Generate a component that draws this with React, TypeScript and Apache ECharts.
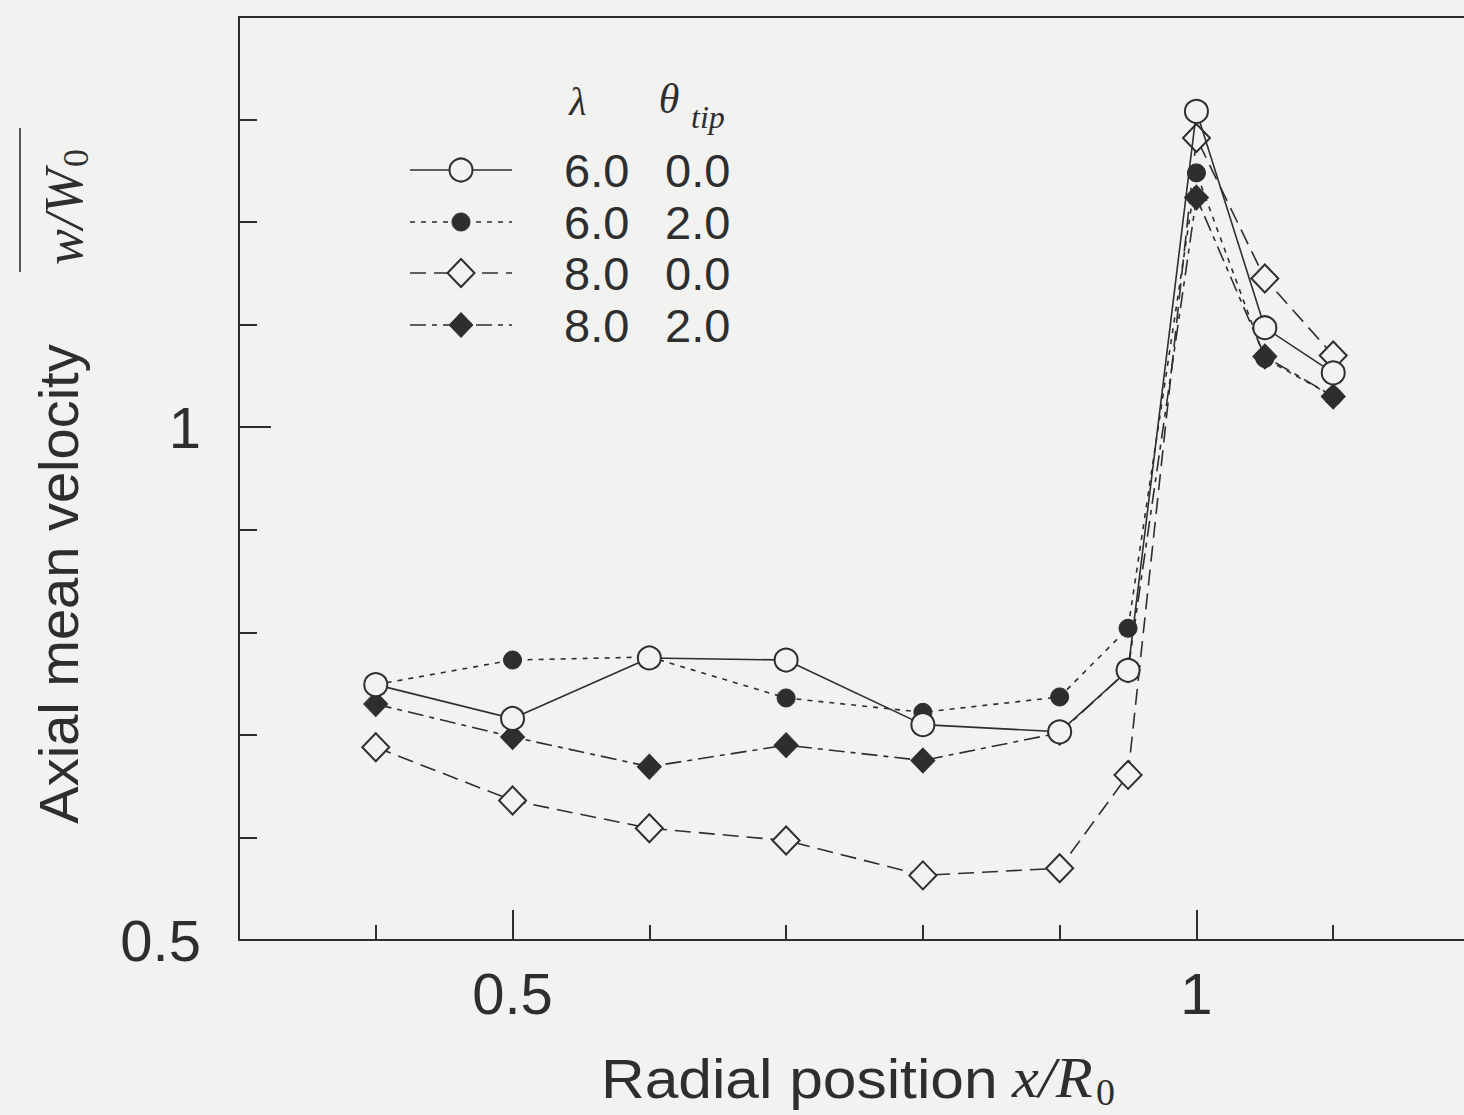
import React, { useEffect, useRef } from "react";
import * as echarts from "echarts";

// Radial positions x/R0
const radialPositions = [0.4, 0.5, 0.6, 0.7, 0.8, 0.9, 0.95, 1.0, 1.05, 1.1];

// Axial mean velocity w/W0 for each case (lambda, theta_tip)
const lambda6Theta0 = [0.749, 0.716, 0.775, 0.773, 0.71, 0.703, 0.763, 1.308, 1.097, 1.053];
const lambda6Theta2 = [0.749, 0.773, 0.776, 0.736, 0.722, 0.737, 0.804, 1.248, 1.067, 1.03];
const lambda8Theta0 = [0.688, 0.636, 0.609, 0.597, 0.563, 0.57, 0.661, 1.282, 1.145, 1.07];
const lambda8Theta2 = [0.73, 0.698, 0.669, 0.69, 0.675, 0.702, 0.763, 1.224, 1.069, 1.03];

const lambdaValues = ["6.0", "6.0", "8.0", "8.0"];
const thetaValues = ["0.0", "2.0", "0.0", "2.0"];

const xLabelTicks = [0.5, 1];
const xMinorTicks = [0.4, 0.6, 0.7, 0.8, 0.9, 1.1];
const yLabelTicks = [0.5, 1];
const yMajorTicks = [1];
const yMinorTicks = [0.6, 0.7, 0.8, 0.9, 1.1, 1.2, 1.3];

const BG = "#f2f2f0";
const INK = "#2e2e2e";
const SANS = "'Liberation Sans', Arial, Helvetica, sans-serif";
const SERIF = "'Liberation Serif', 'Times New Roman', serif";

type Style = {
  symbol: string;
  size: number | number[];
  filled: boolean;
  dash: number[] | "solid";
  z: number;
};

const styles: Style[] = [
  { symbol: "circle", size: 23, filled: false, dash: "solid", z: 6 },
  { symbol: "circle", size: 18, filled: true, dash: [5, 6], z: 4 },
  { symbol: "diamond", size: [27, 28], filled: false, dash: [16, 8], z: 5 },
  { symbol: "diamond", size: [24, 25], filled: true, dash: [16, 6, 5, 6], z: 3 },
];

const allData = [lambda6Theta0, lambda6Theta2, lambda8Theta0, lambda8Theta2];

function diamondPoints(cx: number, cy: number, hw: number, hh: number) {
  return [
    [cx, cy - hh],
    [cx + hw, cy],
    [cx, cy + hh],
    [cx - hw, cy],
  ];
}

export default function App() {
  const ref = useRef<HTMLDivElement>(null);

  useEffect(() => {
    if (!ref.current) return;
    const chart = echarts.init(ref.current, null, { renderer: "svg" });

    const series: any[] = allData.map((vals, i) => {
      const s = styles[i];
      return {
        type: "line",
        name: `${lambdaValues[i]} ${thetaValues[i]}`,
        data: radialPositions.map((x, j) => [x, vals[j]]),
        symbol: s.symbol,
        symbolSize: s.size,
        showSymbol: true,
        z: s.z,
        lineStyle: { color: INK, width: 1.6, type: s.dash },
        itemStyle: s.filled
          ? { color: INK, borderColor: INK, borderWidth: 1 }
          : { color: BG, borderColor: INK, borderWidth: 2 },
        emphasis: { disabled: true },
        xAxisIndex: 0,
        yAxisIndex: 0,
      };
    });

    // Legend drawn as graphics
    const rowsY = [170, 222, 273, 325];
    const legendEls: any[] = [];
    rowsY.forEach((ry, i) => {
      const s = styles[i];
      legendEls.push({
        type: "line",
        shape: { x1: 410, y1: ry, x2: 512, y2: ry },
        style: {
          stroke: INK,
          lineWidth: 1.6,
          lineDash: s.dash === "solid" ? null : s.dash,
        },
        z: 10,
      });
      const fill = s.filled ? INK : BG;
      if (s.symbol === "circle") {
        const r = (s.size as number) / 2;
        legendEls.push({
          type: "circle",
          shape: { cx: 461, cy: ry, r },
          style: { fill, stroke: INK, lineWidth: s.filled ? 1 : 2 },
          z: 11,
        });
      } else {
        const sz = s.size as number[];
        legendEls.push({
          type: "polygon",
          shape: { points: diamondPoints(461, ry, sz[0] / 2, sz[1] / 2) },
          style: { fill, stroke: INK, lineWidth: s.filled ? 1 : 2 },
          z: 11,
        });
      }
      legendEls.push({
        type: "text",
        x: 564,
        y: ry,
        style: {
          text: lambdaValues[i],
          fontSize: 47,
          fontFamily: SANS,
          fill: INK,
          align: "left",
          verticalAlign: "middle",
        },
        z: 11,
      });
      legendEls.push({
        type: "text",
        x: 665,
        y: ry,
        style: {
          text: thetaValues[i],
          fontSize: 47,
          fontFamily: SANS,
          fill: INK,
          align: "left",
          verticalAlign: "middle",
        },
        z: 11,
      });
    });

    const graphics: any[] = [
      ...legendEls,
      // Legend header
      {
        type: "text",
        x: 578,
        y: 101,
        style: {
          text: "λ",
          fontSize: 40,
          fontFamily: SERIF,
          fontStyle: "italic",
          fill: INK,
          align: "center",
          verticalAlign: "middle",
        },
      },
      {
        type: "text",
        x: 669,
        y: 99,
        style: {
          text: "θ",
          fontSize: 42,
          fontFamily: SERIF,
          fontStyle: "italic",
          fill: INK,
          align: "center",
          verticalAlign: "middle",
        },
      },
      {
        type: "text",
        x: 691,
        y: 117,
        style: {
          text: "tip",
          fontSize: 32,
          fontFamily: SERIF,
          fontStyle: "italic",
          fill: INK,
          align: "left",
          verticalAlign: "middle",
        },
      },
      // X axis title
      {
        type: "text",
        x: 601,
        y: 1078,
        scaleX: 1.08,
        style: {
          text: "Radial position",
          fontSize: 56,
          fontFamily: SANS,
          fill: INK,
          align: "left",
          verticalAlign: "middle",
        },
      },
      {
        type: "text",
        x: 1012,
        y: 1078,
        scaleX: 1.08,
        style: {
          text: "x/R",
          fontSize: 56,
          fontFamily: SERIF,
          fontStyle: "italic",
          fill: INK,
          align: "left",
          verticalAlign: "middle",
        },
      },
      {
        type: "text",
        x: 1096,
        y: 1092,
        style: {
          text: "0",
          fontSize: 38,
          fontFamily: SERIF,
          fill: INK,
          align: "left",
          verticalAlign: "middle",
        },
      },
      // Y axis title (rotated)
      {
        type: "text",
        x: 58,
        y: 584,
        rotation: Math.PI / 2,
        style: {
          text: "Axial mean velocity",
          fontSize: 56,
          fontFamily: SANS,
          fill: INK,
          align: "center",
          verticalAlign: "middle",
        },
      },
      {
        type: "text",
        x: 64,
        y: 265,
        rotation: Math.PI / 2,
        style: {
          text: "w/W",
          fontSize: 54,
          fontFamily: SERIF,
          fontStyle: "italic",
          fill: INK,
          align: "left",
          verticalAlign: "middle",
        },
      },
      {
        type: "text",
        x: 76,
        y: 167,
        rotation: Math.PI / 2,
        style: {
          text: "0",
          fontSize: 36,
          fontFamily: SERIF,
          fill: INK,
          align: "left",
          verticalAlign: "middle",
        },
      },
      {
        type: "line",
        shape: { x1: 20, y1: 128, x2: 20, y2: 272 },
        style: { stroke: "#555", lineWidth: 2 },
      },
    ];

    const axisLineStyle = { color: INK, width: 2 };

    chart.setOption({
      animation: false,
      backgroundColor: BG,
      grid: {
        left: 239,
        top: 17,
        width: 1231,
        height: 923,
        show: true,
        borderColor: INK,
        borderWidth: 2,
        backgroundColor: "transparent",
        containLabel: false,
        outerBoundsMode: "none",
      },
      xAxis: [
        {
          type: "value",
          min: 0.3,
          max: 1.2,
          position: "bottom",
          axisLine: { show: true, onZero: false, lineStyle: axisLineStyle },
          axisTick: {
            show: true,
            inside: true,
            length: 30,
            customValues: xLabelTicks,
            lineStyle: axisLineStyle,
          },
          axisLabel: {
            show: true,
            customValues: xLabelTicks,
            formatter: (v: number) => (v === 1 ? "1" : String(v)),
            fontSize: 58,
            fontFamily: SANS,
            color: INK,
            margin: 24,
          },
          splitLine: { show: false },
        },
        {
          type: "value",
          min: 0.3,
          max: 1.2,
          position: "bottom",
          offset: 0,
          axisLine: { show: false },
          axisTick: {
            show: true,
            inside: true,
            length: 15,
            customValues: xMinorTicks,
            lineStyle: axisLineStyle,
          },
          axisLabel: { show: false },
          splitLine: { show: false },
        },
      ],
      yAxis: [
        {
          type: "value",
          min: 0.5,
          max: 1.4,
          position: "left",
          axisLine: { show: true, onZero: false, lineStyle: axisLineStyle },
          axisTick: {
            show: true,
            inside: true,
            length: 32,
            customValues: yMajorTicks,
            lineStyle: axisLineStyle,
          },
          axisLabel: {
            show: true,
            customValues: yLabelTicks,
            formatter: (v: number) => (v === 1 ? "1" : String(v)),
            fontSize: 58,
            fontFamily: SANS,
            color: INK,
            margin: 38,
          },
          splitLine: { show: false },
        },
        {
          type: "value",
          min: 0.5,
          max: 1.4,
          position: "left",
          offset: 0,
          axisLine: { show: false },
          axisTick: {
            show: true,
            inside: true,
            length: 18,
            customValues: yMinorTicks,
            lineStyle: axisLineStyle,
          },
          axisLabel: { show: false },
          splitLine: { show: false },
        },
      ],
      series,
      graphic: graphics,
    });

    return () => {
      chart.dispose();
    };
  }, []);

  return (
    <div
      ref={ref}
      style={{ position: "fixed", left: 0, top: 0, width: 1464, height: 1115 }}
    />
  );
}
